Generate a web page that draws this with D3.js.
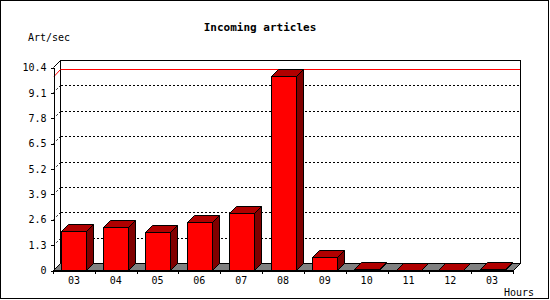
<!DOCTYPE html>
<html>
<head>
<meta charset="utf-8">
<script src="https://cdn.jsdelivr.net/npm/d3@7"></script>
<style>
  body { margin: 0; background: #fff; }
  text { font-family: "DejaVu Sans Mono", monospace; }
</style>
</head>
<body>
<div class="container"></div>
<script>
// chart data
const hours = ["03", "04", "05", "06", "07", "08", "09", "10", "11", "12", "03"];
const artPerSec = [2.0, 2.19, 1.95, 2.44, 2.9, 9.94, 0.65, 0.05, 0.02, 0.02, 0.07];
const yTicks = [0, 1.3, 2.6, 3.9, 5.2, 6.5, 7.8, 9.1, 10.4];

const width = 550;
const height = 300;
const margin = { top: 67, bottom: 30, left: 53, right: 37 };
const depth = 7; // 3d offset

const svg = d3.select(".container")
  .append("svg")
  .attr("width", width)
  .attr("height", height)
  .attr("shape-rendering", "crispEdges");

// outer frame
svg.append("rect")
  .attr("x", 0.5).attr("y", 0.5)
  .attr("width", 548).attr("height", 298)
  .attr("fill", "#fff").attr("stroke", "#000");

const xScale = d3.scaleBand()
  .domain(d3.range(hours.length))
  .range([margin.left, width - margin.right]);

const yScale = d3.scaleLinear()
  .domain([0, 10.4])
  .range([height - margin.bottom, margin.top]);

const x0 = margin.left, x1 = width - margin.right;
const yBase = yScale(0), yTop = yScale(10.4);

// back wall
svg.append("rect")
  .attr("x", x0 + depth + 0.5).attr("y", yTop - depth + 0.5)
  .attr("width", x1 - x0).attr("height", yBase - yTop)
  .attr("fill", "#fff").attr("stroke", "#000");

// grid lines on back wall and left wall
const grid = svg.append("g")
  .attr("stroke", "#000")
  .attr("stroke-dasharray", "2,2");
grid.selectAll("line.back")
  .data(yTicks.filter(d => d > 0 && d < 10.4))
  .join("line")
  .attr("x1", x0 + depth + 1).attr("x2", x1 + depth)
  .attr("y1", d => Math.round(yScale(d)) - depth + 0.5)
  .attr("y2", d => Math.round(yScale(d)) - depth + 0.5);
grid.selectAll("line.side")
  .data(yTicks.filter(d => d > 0 && d < 10.4))
  .join("line")
  .attr("shape-rendering", "auto")
  .attr("x1", x0 + 0.5).attr("x2", x0 + depth + 0.5)
  .attr("y1", d => Math.round(yScale(d)) + 0.5)
  .attr("y2", d => Math.round(yScale(d)) - depth + 0.5);

// left wall top edge
svg.append("line")
  .attr("shape-rendering", "auto")
  .attr("x1", x0 + 0.5).attr("y1", yTop + 0.5)
  .attr("x2", x0 + depth + 0.5).attr("y2", yTop - depth + 0.5)
  .attr("stroke", "#000");

// max value line
const maxV = d3.max(artPerSec);
const yMax = Math.round(yScale(maxV));
svg.append("line")
  .attr("x1", x0 + depth + 1).attr("x2", x1 + depth)
  .attr("y1", yMax - depth + 0.5).attr("y2", yMax - depth + 0.5)
  .attr("stroke", "#f00");
svg.append("line")
  .attr("shape-rendering", "auto")
  .attr("x1", x0 + 1).attr("y1", yMax + 0.5)
  .attr("x2", x0 + depth + 0.5).attr("y2", yMax - depth + 0.5)
  .attr("stroke", "#f00");

// floor
svg.append("polygon")
  .attr("shape-rendering", "auto")
  .attr("points", [[x0 + 0.5, yBase + 0.5], [x0 + depth + 0.5, yBase - depth + 0.5],
    [x1 + depth + 0.5, yBase - depth + 0.5], [x1 + 0.5, yBase + 0.5]].join(" "))
  .attr("fill", "#808080").attr("stroke", "#000");

// bars
const barW = 25;
const bars = svg.append("g")
  .attr("shape-rendering", "auto")
  .attr("stroke", "#000")
  .attr("stroke-linejoin", "miter")
  .selectAll("g")
  .data(artPerSec)
  .join("g");

function bx(i) {
  return Math.round(xScale(i) + (xScale.bandwidth() - barW) / 2) + 0.5;
}
function by(d) {
  return Math.round(yScale(d)) + 0.5;
}

bars.append("polygon")
  .attr("fill", "#800000")
  .attr("points", (d, i) => [[bx(i) + barW, by(d)], [bx(i) + barW + depth, by(d) - depth],
    [bx(i) + barW + depth, yBase - depth + 0.5], [bx(i) + barW, yBase + 0.5]].join(" "));

bars.append("polygon")
  .attr("fill", "#b00000")
  .attr("points", (d, i) => [[bx(i), by(d)], [bx(i) + depth, by(d) - depth],
    [bx(i) + barW + depth, by(d) - depth], [bx(i) + barW, by(d)]].join(" "));

bars.append("rect")
  .attr("fill", "#f00")
  .attr("x", (d, i) => bx(i))
  .attr("y", d => by(d))
  .attr("width", barW)
  .attr("height", d => yBase + 0.5 - by(d));

// y axis
svg.append("g")
  .attr("transform", `translate(${x0 + 0.5}, 0.5)`)
  .call(d3.axisLeft(yScale)
    .tickValues(yTicks)
    .tickSize(3)
    .tickSizeOuter(0)
    .tickFormat(d => d === 0 ? "0" : d3.format(".1f")(d)))
  .call(g => g.selectAll("text").attr("font-size", 10).attr("fill", "#000").attr("dx", -1))
  .call(g => g.selectAll("line, path").attr("stroke", "#000"))
  .attr("font-family", null);

// x axis: labels at band centers, ticks at band edges
svg.append("g")
  .attr("transform", `translate(0, ${yBase + 0.5})`)
  .call(d3.axisBottom(xScale)
    .tickSize(0)
    .tickPadding(6)
    .tickFormat(i => hours[i]))
  .call(g => g.select(".domain").attr("stroke", "#000"))
  .call(g => g.selectAll("text").attr("font-size", 10).attr("fill", "#000"))
  .attr("font-family", null);

svg.append("g")
  .selectAll("line")
  .data(d3.range(hours.length + 1))
  .join("line")
  .attr("x1", i => Math.round(x0 + i * xScale.step()) + 0.5)
  .attr("x2", i => Math.round(x0 + i * xScale.step()) + 0.5)
  .attr("y1", yBase)
  .attr("y2", yBase + 4)
  .attr("stroke", "#000");

// titles
svg.append("text")
  .attr("x", 260).attr("y", 31)
  .attr("text-anchor", "middle")
  .attr("font-size", 11)
  .attr("font-weight", "bold")
  .text("Incoming articles");

svg.append("text")
  .attr("x", 28).attr("y", 41)
  .attr("font-size", 10)
  .text("Art/sec");

svg.append("text")
  .attr("x", 534).attr("y", 296)
  .attr("text-anchor", "end")
  .attr("font-size", 10)
  .text("Hours");
</script>
</body>
</html>
